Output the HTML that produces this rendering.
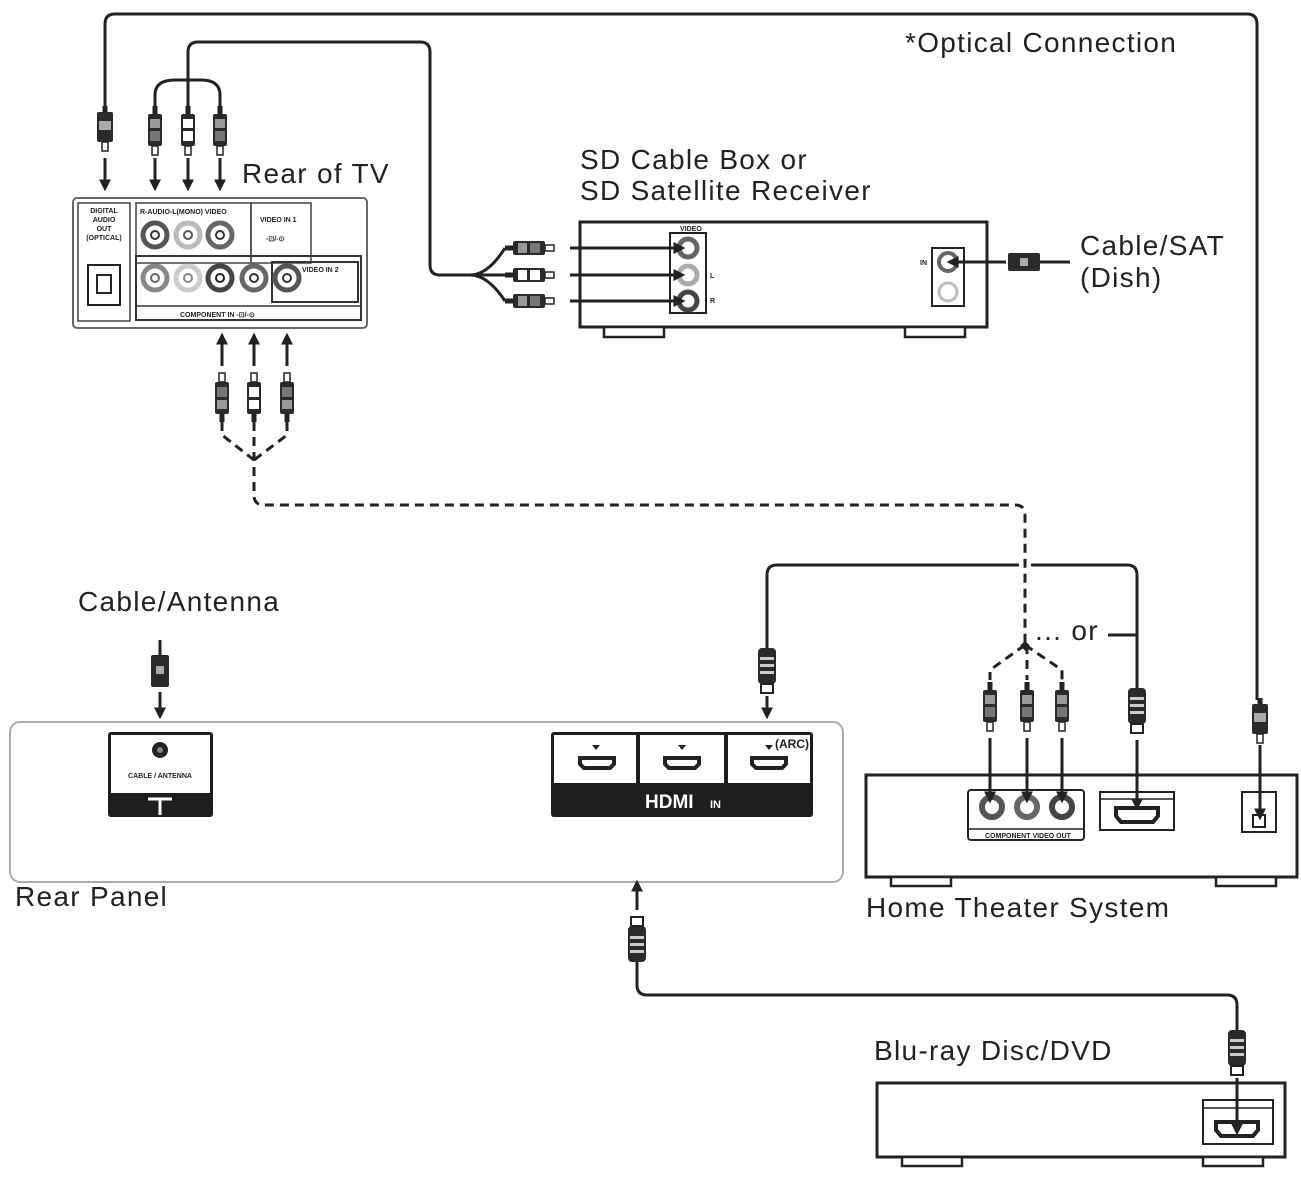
<!DOCTYPE html>
<html><head><meta charset="utf-8"><style>
html,body{margin:0;padding:0;background:#fff}
svg{display:block}
text{font-family:"Liberation Sans",sans-serif;fill:#222}
.big{font-size:28px;letter-spacing:1.3px}
.sm{font-size:7px;font-weight:bold}
</style></head><body>
<svg width="1301" height="1178" viewBox="0 0 1301 1178" xmlns="http://www.w3.org/2000/svg">
<defs>
<marker id="ah" markerWidth="4" markerHeight="4" refX="2.2" refY="2" orient="auto" markerUnits="strokeWidth">
<path d="M0,0 L4,2 L0,4 Z" fill="#222"/></marker>
<g id="rcaD"><rect x="-2.5" y="0" width="5" height="8" fill="#222"/><rect x="-7" y="8" width="14" height="32" rx="2" fill="#2a2a2a"/><rect x="-5" y="13" width="10" height="9" fill="#999"/><rect x="-5" y="25" width="10" height="10" fill="#777"/><rect x="-3" y="40" width="6" height="9" fill="#fff" stroke="#222" stroke-width="1.5"/></g>
<g id="rcaW"><rect x="-2.5" y="0" width="5" height="8" fill="#222"/><rect x="-7" y="8" width="14" height="32" rx="2" fill="#2a2a2a"/><rect x="-5" y="13" width="10" height="9" fill="#fff"/><rect x="-5" y="25" width="10" height="10" fill="#fff"/><rect x="-3" y="40" width="6" height="9" fill="#fff" stroke="#222" stroke-width="1.5"/></g>
<g id="hdmiD"><rect x="-9" y="0" width="18" height="36" rx="4" fill="#2a2a2a"/><rect x="-7" y="9" width="14" height="3" fill="#ccc"/><rect x="-7" y="16" width="14" height="3" fill="#ccc"/><rect x="-7" y="23" width="14" height="3" fill="#ccc"/><rect x="-6" y="36" width="12" height="9" fill="#fff" stroke="#222" stroke-width="2"/></g>
<g id="optD"><rect x="-2.5" y="0" width="5" height="6" fill="#222"/><rect x="-8" y="6" width="16" height="30" rx="2" fill="#2a2a2a"/><rect x="-6" y="15" width="12" height="9" fill="#aaa"/><rect x="-3" y="36" width="6" height="9" fill="#fff" stroke="#222" stroke-width="1.5"/></g>
</defs>

<!-- TV rear -->
<rect x="73" y="198" width="294" height="130" rx="4" fill="#fff" stroke="#666" stroke-width="2"/>
<rect x="78" y="203" width="52" height="118" fill="none" stroke="#444" stroke-width="1.5"/>
<text class="sm" x="104" y="213" text-anchor="middle">DIGITAL</text>
<text class="sm" x="104" y="222" text-anchor="middle">AUDIO</text>
<text class="sm" x="104" y="231" text-anchor="middle">OUT</text>
<text class="sm" x="104" y="240" text-anchor="middle">(OPTICAL)</text>
<rect x="88" y="265" width="32" height="40" fill="none" stroke="#222" stroke-width="2"/>
<path d="M97,275 h14 v18 h-14z" fill="none" stroke="#222" stroke-width="2"/>
<rect x="136" y="203" width="115" height="60" fill="none" stroke="#444" stroke-width="1.5"/>
<rect x="251" y="203" width="60" height="60" fill="none" stroke="#444" stroke-width="1.5"/>
<text class="sm" x="140" y="214">R-AUDIO-L(MONO) VIDEO</text>
<text class="sm" x="260" y="222">VIDEO IN 1</text>
<text class="sm" x="266" y="241">-⊡/-⊙</text>
<rect x="136" y="256" width="225" height="64" fill="none" stroke="#333" stroke-width="2"/>
<rect x="272" y="262" width="86" height="40" fill="none" stroke="#333" stroke-width="2"/>
<line x1="136" y1="306" x2="361" y2="306" stroke="#333" stroke-width="1.5"/>
<text class="sm" x="302" y="272">VIDEO IN 2</text>
<text class="sm" x="180" y="317">COMPONENT IN -⊡/-⊙</text>
<g stroke-width="5">
<circle cx="155" cy="235" r="12" fill="#fff" stroke="#555"/><circle cx="155" cy="235" r="4" fill="#fff" stroke="#333" stroke-width="2"/>
<circle cx="188" cy="235" r="12" fill="#fff" stroke="#bbb"/><circle cx="188" cy="235" r="4" fill="#fff" stroke="#555" stroke-width="2"/>
<circle cx="220" cy="235" r="12" fill="#fff" stroke="#666"/><circle cx="220" cy="235" r="4" fill="#fff" stroke="#333" stroke-width="2"/>
<circle cx="155" cy="278" r="12" fill="#fff" stroke="#888"/><circle cx="155" cy="278" r="4" fill="#fff" stroke="#666" stroke-width="2"/>
<circle cx="188" cy="278" r="12" fill="#fff" stroke="#ccc"/><circle cx="188" cy="278" r="4" fill="#fff" stroke="#888" stroke-width="2"/>
<circle cx="220" cy="278" r="12" fill="#fff" stroke="#444"/><circle cx="220" cy="278" r="4" fill="#fff" stroke="#222" stroke-width="2"/>
<circle cx="254" cy="278" r="12" fill="#fff" stroke="#666"/><circle cx="254" cy="278" r="4" fill="#fff" stroke="#333" stroke-width="2"/>
<circle cx="287" cy="278" r="12" fill="#fff" stroke="#555"/><circle cx="287" cy="278" r="4" fill="#fff" stroke="#333" stroke-width="2"/>
</g>
<text x="242" y="183" class="big">Rear of TV</text>

<!-- SD box -->
<rect x="580" y="222" width="407" height="105" fill="#fff" stroke="#222" stroke-width="3"/>
<rect x="604" y="327" width="60" height="10" fill="#fff" stroke="#222" stroke-width="2.5"/>
<rect x="905" y="327" width="60" height="10" fill="#fff" stroke="#222" stroke-width="2.5"/>
<rect x="670" y="233" width="36" height="80" fill="none" stroke="#222" stroke-width="2"/>
<text class="sm" x="680" y="231">VIDEO</text>
<g stroke-width="5" fill="#fff"><circle cx="688" cy="248" r="9" stroke="#666"/><circle cx="688" cy="275" r="9" stroke="#aaa"/><circle cx="688" cy="301" r="9" stroke="#444"/></g>
<text class="sm" x="710" y="278">L</text><text class="sm" x="710" y="303">R</text>
<rect x="932" y="248" width="32" height="58" fill="none" stroke="#222" stroke-width="2"/>
<circle cx="948" cy="262" r="9" fill="#fff" stroke="#666" stroke-width="4"/><circle cx="948" cy="292" r="9" fill="#fff" stroke="#bbb" stroke-width="3"/>
<text class="sm" x="920" y="265">IN</text>
<text x="580" y="169" class="big">SD Cable Box or</text>
<text x="580" y="200" class="big">SD Satellite Receiver</text>
<text x="1080" y="255" class="big">Cable/SAT</text>
<text x="1080" y="287" class="big">(Dish)</text>
<text x="905" y="52" class="big">*Optical Connection</text>

<!-- Rear panel -->
<text x="78" y="611" class="big">Cable/Antenna</text>
<rect x="10" y="722" width="833" height="160" rx="10" fill="#fff" stroke="#aaa" stroke-width="2"/>
<rect x="108" y="732" width="105" height="85" rx="3" fill="#1e1e1e"/>
<rect x="111" y="735" width="99" height="58" fill="#fff"/>
<circle cx="160" cy="750" r="8" fill="#222"/><circle cx="160" cy="750" r="3" fill="#888"/>
<text class="sm" x="160" y="778" text-anchor="middle" font-size="8">CABLE / ANTENNA</text>
<path d="M148,799 H172 M160,799 V815" stroke="#fff" stroke-width="3"/>
<rect x="551" y="732" width="262" height="85" rx="3" fill="#1e1e1e"/>
<rect x="554" y="735" width="82" height="48" fill="#fff"/>
<rect x="640" y="735" width="84" height="48" fill="#fff"/>
<rect x="728" y="735" width="82" height="48" fill="#fff"/>
<g fill="#fff" stroke="#222" stroke-width="4"><path d="M580,758 h34 v6 l-4,4 h-26 l-4,-4z"/><path d="M665,758 h34 v6 l-4,4 h-26 l-4,-4z"/><path d="M752,758 h34 v6 l-4,4 h-26 l-4,-4z"/></g>
<g fill="#222"><path d="M592,745 h8 l-4,5z"/><path d="M678,745 h8 l-4,5z"/><path d="M765,745 h8 l-4,5z"/></g>
<text x="775" y="748" font-size="12" font-weight="bold">(ARC)</text>
<g font-size="11" font-weight="bold"><text x="556" y="781" style="fill:#fff">4</text><text x="642" y="781" style="fill:#fff">3</text><text x="730" y="781" style="fill:#fff">2</text></g>
<text x="645" y="808" font-size="19" font-weight="900" style="fill:#fff">HDMI</text>
<text x="710" y="808" font-size="11" font-weight="bold" style="fill:#fff">IN</text>
<text x="15" y="906" class="big">Rear Panel</text>

<!-- HTS -->
<text x="1035" y="640" class="big">... or</text>
<rect x="866" y="775" width="431" height="102" fill="#fff" stroke="#222" stroke-width="3"/>
<rect x="891" y="877" width="60" height="9" fill="#fff" stroke="#222" stroke-width="2.5"/>
<rect x="1216" y="877" width="60" height="9" fill="#fff" stroke="#222" stroke-width="2.5"/>
<rect x="968" y="790" width="116" height="50" rx="3" fill="none" stroke="#222" stroke-width="2"/>
<line x1="968" y1="829" x2="1084" y2="829" stroke="#222" stroke-width="1.5"/>
<text class="sm" x="985" y="838" font-size="6">COMPONENT VIDEO OUT</text>
<g stroke-width="6" fill="#fff"><circle cx="992" cy="807" r="10" stroke="#555"/><circle cx="1027" cy="807" r="10" stroke="#666"/><circle cx="1062" cy="807" r="10" stroke="#444"/></g>
<rect x="1100" y="792" width="74" height="38" fill="#fff" stroke="#222" stroke-width="2"/>
<line x1="1100" y1="799" x2="1174" y2="799" stroke="#222" stroke-width="1.5"/>
<path d="M1116,808 h42 v8 l-5,6 h-32 l-5,-6z" fill="#fff" stroke="#222" stroke-width="4"/>
<rect x="1242" y="792" width="34" height="40" fill="#fff" stroke="#222" stroke-width="2"/>
<rect x="1253" y="815" width="12" height="12" fill="none" stroke="#222" stroke-width="2"/>
<text x="866" y="917" class="big">Home Theater System</text>

<!-- Blu-ray -->
<text x="874" y="1060" class="big">Blu-ray Disc/DVD</text>
<rect x="877" y="1083" width="408" height="74" fill="#fff" stroke="#222" stroke-width="3"/>
<rect x="902" y="1157" width="60" height="9" fill="#fff" stroke="#222" stroke-width="2.5"/>
<rect x="1203" y="1157" width="60" height="9" fill="#fff" stroke="#222" stroke-width="2.5"/>
<rect x="1203" y="1100" width="70" height="44" fill="#fff" stroke="#222" stroke-width="2"/>
<line x1="1203" y1="1108" x2="1273" y2="1108" stroke="#222" stroke-width="1.5"/>
<path d="M1216,1122 h42 v8 l-5,6 h-32 l-5,-6z" fill="#fff" stroke="#222" stroke-width="4"/>

<!-- cables -->
<g fill="none" stroke="#222" stroke-width="3">
<path d="M105,110 V24 Q105,14 115,14 H1247 Q1257,14 1257,24 V700"/>
<path d="M188,88 V52 Q188,42 198,42 H420 Q430,42 430,52 V265 Q430,275 440,275 H470"/>
<path d="M470,275 Q488,275 505,248 M470,275 H505 M470,275 Q488,275 505,301"/>
<path d="M155,110 V95 Q155,80 175,80 H201 Q220,80 220,95 V110 M188,80 V110"/>
<path d="M767,650 V575 Q767,565 777,565 H1127 Q1137,565 1137,575 V690"/>
<path d="M637,960 V985 Q637,995 647,995 H1227 Q1237,995 1237,1005 V1030"/>
<path d="M160,640 V660"/>
<path d="M1108,635 H1137"/>
<path d="M1040,262 H1070"/>
</g>
<rect x="1019" y="560" width="12" height="12" fill="#fff"/>

<g fill="none" stroke="#222" stroke-width="3" stroke-dasharray="9,6">
<path d="M222,422 V435 L254,460 M287,422 V435 L254,460 M254,422 V495 Q254,505 264,505 H1015 Q1025,505 1025,515 V645"/>
<path d="M1025,645 L990,670 V680 M1025,645 L1062,670 V680 M1027,645 V680"/>
</g>
<rect x="1022" y="642" width="7" height="7" fill="#222" transform="rotate(45 1025 645)"/>

<!-- arrows -->
<g stroke="#222" stroke-width="3" marker-end="url(#ah)">
<line x1="105" y1="158" x2="105" y2="186"/>
<line x1="155" y1="158" x2="155" y2="186"/>
<line x1="188" y1="158" x2="188" y2="186"/>
<line x1="220" y1="158" x2="220" y2="186"/>
<line x1="222" y1="366" x2="222" y2="338"/>
<line x1="254" y1="366" x2="254" y2="338"/>
<line x1="287" y1="366" x2="287" y2="338"/>
<line x1="570" y1="248" x2="680" y2="248"/>
<line x1="570" y1="275" x2="680" y2="275"/>
<line x1="570" y1="301" x2="680" y2="301"/>
<line x1="1006" y1="262" x2="952" y2="262"/>
<line x1="160" y1="692" x2="160" y2="714"/>
<line x1="767" y1="696" x2="767" y2="714"/>
<line x1="990" y1="738" x2="990" y2="798"/>
<line x1="1027" y1="738" x2="1027" y2="798"/>
<line x1="1062" y1="738" x2="1062" y2="798"/>
<line x1="1137" y1="740" x2="1137" y2="805"/>
<line x1="1260" y1="745" x2="1260" y2="815"/>
<line x1="637" y1="910" x2="637" y2="885"/>
<line x1="1237" y1="1078" x2="1237" y2="1130"/>
</g>

<!-- plugs -->
<use href="#optD" x="105" y="106"/>
<use href="#rcaD" x="155" y="106"/>
<use href="#rcaW" x="188" y="106"/>
<use href="#rcaD" x="220" y="106"/>
<use href="#rcaD" transform="translate(222,422) rotate(180)"/>
<use href="#rcaW" transform="translate(254,422) rotate(180)"/>
<use href="#rcaD" transform="translate(287,422) rotate(180)"/>
<use href="#rcaD" transform="translate(505,248) rotate(-90)"/>
<use href="#rcaW" transform="translate(505,275) rotate(-90)"/>
<use href="#rcaD" transform="translate(505,301) rotate(-90)"/>
<use href="#rcaD" x="990" y="682"/>
<use href="#rcaD" x="1027" y="682"/>
<use href="#rcaD" x="1062" y="682"/>
<use href="#hdmiD" x="767" y="648"/>
<use href="#hdmiD" x="1137" y="688"/>
<use href="#optD" x="1260" y="698"/>
<use href="#hdmiD" transform="translate(637,962) rotate(180)"/>
<use href="#hdmiD" x="1237" y="1030"/>
<g fill="#2a2a2a"><rect x="151" y="655" width="18" height="32" rx="2"/><rect x="1008" y="253" width="32" height="18" rx="2"/></g>
<rect x="156" y="666" width="8" height="8" fill="#aaa"/><rect x="1020" y="258" width="8" height="8" fill="#aaa"/>
</svg>
</body></html>
